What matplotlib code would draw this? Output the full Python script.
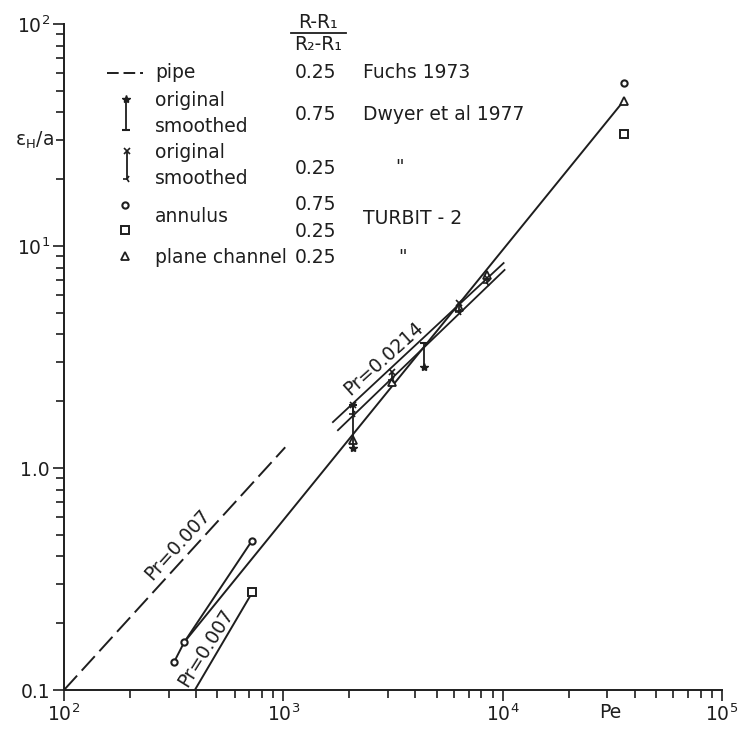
import numpy as np
import matplotlib.pyplot as plt
from matplotlib.lines import Line2D
from matplotlib.ticker import FixedLocator, NullFormatter, LogLocator

# pipe, Fuchs 1973 (dashed, Pr = 0.007)
pipe_pe = [100, 1020]
pipe_eps = [0.1, 1.24]

# long solid line through the TURBIT-2 points
main_pe = [353, 35600]
main_eps = [0.164, 45.0]

# annulus 0.75, TURBIT-2 (circles)
ann75_pe = [318, 353, 718]
ann75_eps = [0.134, 0.164, 0.469]
ann75_hi_pe = [35600]
ann75_hi_eps = [54.2]

# annulus 0.25, TURBIT-2 (squares)
ann25_pe = [395, 723]
ann25_eps = [0.1, 0.276]
ann25_hi_pe = [35600]
ann25_hi_eps = [31.9]

# plane channel 0.25, TURBIT-2 (triangles)
pc_pe = [2074, 3145, 6323, 8468, 35600]
pc_eps = [1.34, 2.45, 5.3, 7.4, 45.0]

# Dwyer et al 1977, Pr = 0.0214 lines
dw_a_pe = [1683, 10100]
dw_a_eps = [1.61, 8.38]
dw_b_pe = [1774, 10200]
dw_b_eps = [1.48, 7.80]

# Dwyer et al 1977 original / smoothed values
dw75_pe = [2074, 4393]
dw75_orig = [1.23, 2.85]
dw75_smooth = [1.92, 3.66]
dw25_pe = [2074, 3145, 6323, 8468]
dw25_orig = [1.92, 2.71, 5.54, 7.18]
dw25_smooth = [1.75, 2.49, 5.04, 6.81]

ink = '#1e1e1e'
fs = 13.5

fig = plt.figure(figsize=(7.42, 7.29), dpi=100)
ax = fig.add_axes([64 / 742, 1 - 690 / 729, 658 / 742, 666 / 729])
ax.set_xscale('log')
ax.set_yscale('log')
ax.set_xlim(100, 1e5)
ax.set_ylim(0.1, 100)

ax.plot(pipe_pe, pipe_eps, color=ink, lw=1.4, dashes=(10, 3.5))
ax.plot(main_pe, main_eps, color=ink, lw=1.4)
ax.plot(dw_a_pe, dw_a_eps, color=ink, lw=1.3)
ax.plot(dw_b_pe, dw_b_eps, color=ink, lw=1.3)
ax.plot(ann75_pe, ann75_eps, color=ink, lw=1.4, marker='o', ms=4.5,
        mfc='white', mec=ink, mew=1.5)
ax.plot(ann75_hi_pe, ann75_hi_eps, ls='none', marker='o', ms=4.5,
        mfc='white', mec=ink, mew=1.5)
ax.plot(ann25_pe, ann25_eps, color=ink, lw=1.4, markevery=[1], marker='s',
        ms=5.5, mfc='white', mec=ink, mew=1.4)
ax.plot(ann25_hi_pe, ann25_hi_eps, ls='none', marker='s', ms=5.5,
        mfc='white', mec=ink, mew=1.4)
ax.plot(pc_pe, pc_eps, ls='none', marker='^', ms=6, mfc='white', mec=ink, mew=1.3)

ax.vlines(dw75_pe, dw75_orig, dw75_smooth, color=ink, lw=1.3)
ax.plot(dw75_pe, dw75_orig, ls='none', marker='*', ms=6, color=ink)
ax.plot(dw75_pe, dw75_smooth, ls='none', marker='_', ms=6, mew=1.5, color=ink)
ax.vlines(dw25_pe, dw25_orig, dw25_smooth, color=ink, lw=1.3)
ax.plot(dw25_pe, dw25_orig, ls='none', marker='x', ms=5, mew=1.2, color=ink)
ax.plot(dw25_pe, dw25_smooth, ls='none', marker='3', ms=6, mew=1.2, color=ink)

ax.text(2857, 3.12, 'Pr=0.0214', rotation=42, ha='center', va='center',
        fontsize=fs, color=ink, rotation_mode='anchor')
ax.text(328, 0.45, 'Pr=0.007', rotation=48, ha='center', va='center',
        fontsize=fs, color=ink, rotation_mode='anchor')
ax.text(444, 0.155, 'Pr=0.007', rotation=58, ha='center', va='center',
        fontsize=fs, color=ink, rotation_mode='anchor')

# axes style
for s in ['top', 'right']:
    ax.spines[s].set_visible(False)
for s in ['left', 'bottom']:
    ax.spines[s].set_color(ink)
    ax.spines[s].set_linewidth(1.4)

ax.xaxis.set_major_locator(FixedLocator([1e2, 1e3, 1e4, 1e5]))
ax.set_xticklabels(['$10^2$', '$10^3$', '$10^4$', '$10^5$'])
ax.yaxis.set_major_locator(FixedLocator([0.1, 1, 10, 100]))
ax.set_yticklabels(['0.1', '1.0', '$10^1$', '$10^2$'])
ax.xaxis.set_minor_locator(LogLocator(base=10, subs=np.arange(2, 10)))
ax.yaxis.set_minor_locator(LogLocator(base=10, subs=np.arange(2, 10)))
ax.xaxis.set_minor_formatter(NullFormatter())
ax.yaxis.set_minor_formatter(NullFormatter())
ax.tick_params(which='both', direction='out', color=ink, width=1.2,
               labelsize=fs, labelcolor=ink)
ax.tick_params(which='major', length=8, pad=2)
ax.tick_params(which='minor', length=6)

ax.text(3.1e4, -0.02, 'Pe', transform=ax.get_xaxis_transform(), ha='center',
        va='top', fontsize=fs, color=ink)
ax.text(-0.016, 30, 'ε$_{\\mathregular{H}}$/a', transform=ax.get_yaxis_transform(),
        ha='right', va='center', fontsize=fs, color=ink)


# legend table drawn in figure pixel positions
def fx(x):
    return x / 742


def fy(y):
    return 1 - y / 729


def txt(x, y, s, ha='left'):
    fig.text(fx(x), fy(y), s, ha=ha, va='center', fontsize=fs, color=ink)


txt(318, 22, 'R-R₁', ha='center')
fig.add_artist(Line2D([fx(291), fx(346)], [fy(33), fy(33)], color=ink, lw=1.3))
txt(318, 45, 'R₂-R₁', ha='center')

fig.add_artist(Line2D([fx(107), fx(143)], [fy(73), fy(73)], color=ink, lw=1.4,
                      dashes=(6, 2.5)))
txt(155, 73, 'pipe')
txt(295, 73, '0.25')
txt(363, 73, 'Fuchs 1973')

fig.add_artist(Line2D([fx(126), fx(126)], [fy(99), fy(130)], color=ink, lw=1.3))
fig.add_artist(Line2D([fx(126)], [fy(99)], marker='*', ms=6, color=ink))
fig.add_artist(Line2D([fx(126)], [fy(130)], marker='_', ms=6, mew=1.5, color=ink))
txt(155, 100, 'original')
txt(155, 126, 'smoothed')
txt(295, 115, '0.75')
txt(363, 115, 'Dwyer et al 1977')

fig.add_artist(Line2D([fx(127), fx(127)], [fy(151), fy(179)], color=ink, lw=1.3))
fig.add_artist(Line2D([fx(127)], [fy(151)], marker='x', ms=4.5, mew=1.2, color=ink))
fig.add_artist(Line2D([fx(127)], [fy(179)], marker='3', ms=6, mew=1.2, color=ink))
txt(155, 152, 'original')
txt(155, 178, 'smoothed')
txt(295, 168, '0.25')
txt(400, 168, '"', ha='center')

fig.add_artist(Line2D([fx(125)], [fy(205)], marker='o', ms=4.5, mfc='white',
                      mec=ink, mew=1.5))
fig.add_artist(Line2D([fx(125)], [fy(230)], marker='s', ms=5.5, mfc='white',
                      mec=ink, mew=1.4))
txt(155, 217, 'annulus')
txt(295, 205, '0.75')
txt(295, 232, '0.25')
txt(363, 218, 'TURBIT - 2')

fig.add_artist(Line2D([fx(125)], [fy(256)], marker='^', ms=5.5, mfc='white',
                      mec=ink, mew=1.3))
txt(155, 258, 'plane channel')
txt(295, 258, '0.25')
txt(402, 258, '"', ha='center')

fig.savefig('out.png', dpi=100, facecolor='white')
